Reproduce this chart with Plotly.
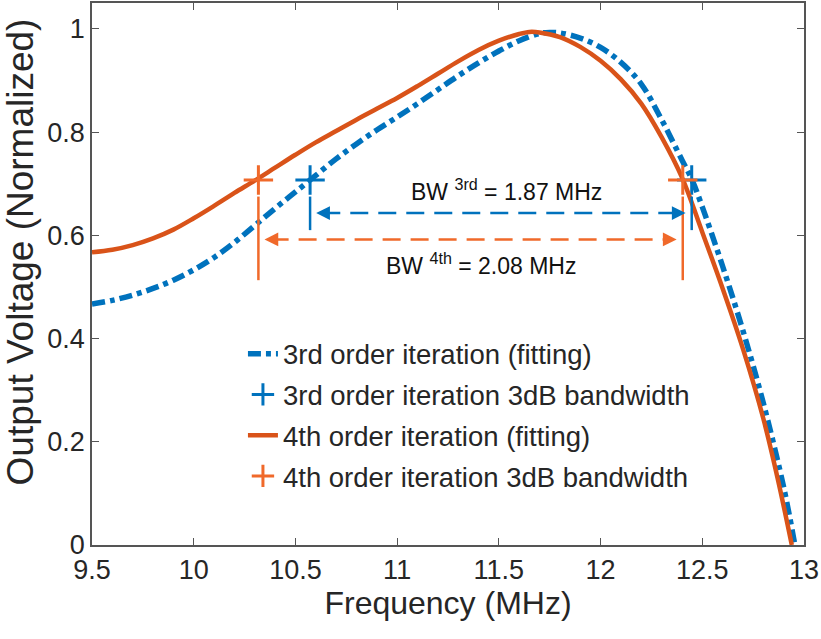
import plotly.graph_objects as go

# ---- data ----
freq_3rd = [9.5, 9.6, 9.7, 9.8, 9.9, 10.0, 10.1, 10.2, 10.3, 10.4, 10.5, 10.6, 10.7, 10.8,
            10.9, 11.0, 11.1, 11.2, 11.3, 11.4, 11.5, 11.6, 11.7, 11.75, 11.8, 11.9, 12.0,
            12.1, 12.2, 12.3, 12.4, 12.45, 12.5, 12.6, 12.7, 12.8, 12.9, 12.955]
volt_3rd = [0.467, 0.474, 0.484, 0.497, 0.513, 0.533, 0.557, 0.586, 0.619, 0.652, 0.684, 0.716,
            0.748, 0.777, 0.804, 0.829, 0.855, 0.882, 0.909, 0.934, 0.957, 0.977, 0.991, 0.993,
            0.992, 0.982, 0.964, 0.935, 0.893, 0.824, 0.746, 0.707, 0.655, 0.540, 0.415, 0.275,
            0.112, 0.0]

freq_4th = [9.5, 9.6, 9.7, 9.8, 9.9, 10.0, 10.1, 10.2, 10.3, 10.4, 10.5, 10.6, 10.7, 10.8,
            10.9, 11.0, 11.1, 11.2, 11.3, 11.4, 11.5, 11.6, 11.65, 11.7, 11.8, 11.9, 12.0,
            12.1, 12.2, 12.3, 12.4, 12.5, 12.6, 12.7, 12.8, 12.87, 12.94]
volt_4th = [0.567, 0.572, 0.581, 0.594, 0.611, 0.633, 0.657, 0.682, 0.706, 0.731, 0.756, 0.780,
            0.802, 0.824, 0.845, 0.866, 0.889, 0.913, 0.937, 0.959, 0.977, 0.990, 0.994, 0.993,
            0.984, 0.965, 0.938, 0.902, 0.855, 0.790, 0.712, 0.606, 0.497, 0.380, 0.245, 0.130,
            0.0]

bw3_freq = [10.572, 12.448]
bw4_freq = [10.318, 12.404]
bw_level = [0.707, 0.707]

bw3_text = "BW <sup>3rd</sup> = 1.87 MHz"
bw4_text = "BW <sup>4th</sup> = 2.08 MHz"

x_ticks = [9.5, 10, 10.5, 11, 11.5, 12, 12.5, 13]
x_ticklabels = ["9.5", "10", "10.5", "11", "11.5", "12", "12.5", "13"]
y_ticks = [0, 0.2, 0.4, 0.6, 0.8, 1.0]
y_ticklabels = ["0", "0.2", "0.4", "0.6", "0.8", "1"]

x_title = "Frequency (MHz)"
y_title = "Output Voltage (Normalized)"

# ---- styles ----
BLUE = "#0072BD"
ORANGE = "#D95319"
ORANGE_L = "#F0692A"
TXT = "#262626"
FONT = "Liberation Sans, Arial, sans-serif"

fig = go.Figure()

fig.add_trace(go.Scatter(
    x=freq_3rd, y=volt_3rd, mode="lines", name="3rd order iteration (fitting)",
    line=dict(color=BLUE, width=5.5, dash="13px,5px,5px,5px", shape="spline", smoothing=1.0),
    legendgroup="a"))
fig.add_trace(go.Scatter(
    x=bw3_freq, y=bw_level, mode="markers", name="3rd order iteration 3dB bandwidth",
    marker=dict(symbol="cross-thin", size=21, color=BLUE, line=dict(color=BLUE, width=3)),
    legendgroup="b"))
fig.add_trace(go.Scatter(
    x=freq_4th, y=volt_4th, mode="lines", name="4th order iteration (fitting)",
    line=dict(color=ORANGE, width=4.5, shape="spline", smoothing=1.0),
    legendgroup="c"))
fig.add_trace(go.Scatter(
    x=bw4_freq, y=bw_level, mode="markers", name="4th order iteration 3dB bandwidth",
    marker=dict(symbol="cross-thin", size=21, color=ORANGE_L, line=dict(color=ORANGE_L, width=3)),
    legendgroup="d"))

# bandwidth indicators (vertical bars, dashed double arrows)
def bw_indicator(xs, y_low, y_high, y_arrow, color):
    inset = 0.03
    for xv in xs:
        fig.add_trace(go.Scatter(x=[xv, xv], y=[y_low, y_high], mode="lines",
                                 line=dict(color=color, width=2.5), showlegend=False,
                                 hoverinfo="skip"))
    xl, xr = xs[0] + inset, xs[1] - inset
    fig.add_trace(go.Scatter(x=[xl + 0.03, xr - 0.03], y=[y_arrow, y_arrow], mode="lines",
                             line=dict(color=color, width=2.5, dash="18px,10px"),
                             showlegend=False, hoverinfo="skip"))
    for tip, tail in ((xl, xl + 0.07), (xr, xr - 0.07)):
        fig.add_annotation(x=tip, y=y_arrow, ax=tail, ay=y_arrow, xref="x", yref="y",
                           axref="x", ayref="y", text="", showarrow=True, arrowhead=2,
                           arrowsize=1.1, arrowwidth=2.5, arrowcolor=color)

bw_indicator(bw3_freq, 0.61, 0.675, 0.643, BLUE)
bw_indicator(bw4_freq, 0.513, 0.675, 0.592, ORANGE_L)

fig.add_annotation(x=11.54, y=0.687, text=bw3_text, showarrow=False,
                   font=dict(family=FONT, size=23, color="#111111"))
fig.add_annotation(x=11.41, y=0.545, text=bw4_text, showarrow=False,
                   font=dict(family=FONT, size=23, color="#111111"))

# y-axis title placed as a rotated text (positioned like the reference)
fig.add_annotation(x=-0.101, y=0.54, xref="paper", yref="paper", text=y_title,
                   textangle=-90, showarrow=False, xanchor="center", yanchor="middle",
                   font=dict(family=FONT, size=37, color=TXT))

axis_common = dict(showline=True, linecolor="#555555", linewidth=1.5, mirror="ticks",
                   ticks="inside", ticklen=7, tickcolor="#555555", tickwidth=1.2,
                   showgrid=False, zeroline=False,
                   tickfont=dict(family=FONT, size=27, color=TXT))

fig.update_xaxes(range=[9.5, 13], tickvals=x_ticks, ticktext=x_ticklabels,
                 title=dict(text=x_title, font=dict(family=FONT, size=32, color=TXT),
                            standoff=6),
                 **axis_common)
fig.update_yaxes(range=[0, 1.05], tickvals=y_ticks, ticktext=y_ticklabels,
                 **axis_common)

fig.update_layout(
    width=821, height=639,
    margin=dict(l=92, r=17, t=1, b=94),
    paper_bgcolor="white", plot_bgcolor="white",
    showlegend=True,
    legend=dict(x=0.212, y=0.398, xanchor="left", yanchor="top",
                bgcolor="rgba(0,0,0,0)", tracegroupgap=2,
                font=dict(family=FONT, size=27.5, color=TXT)),
)

fig.write_html("out.html")
